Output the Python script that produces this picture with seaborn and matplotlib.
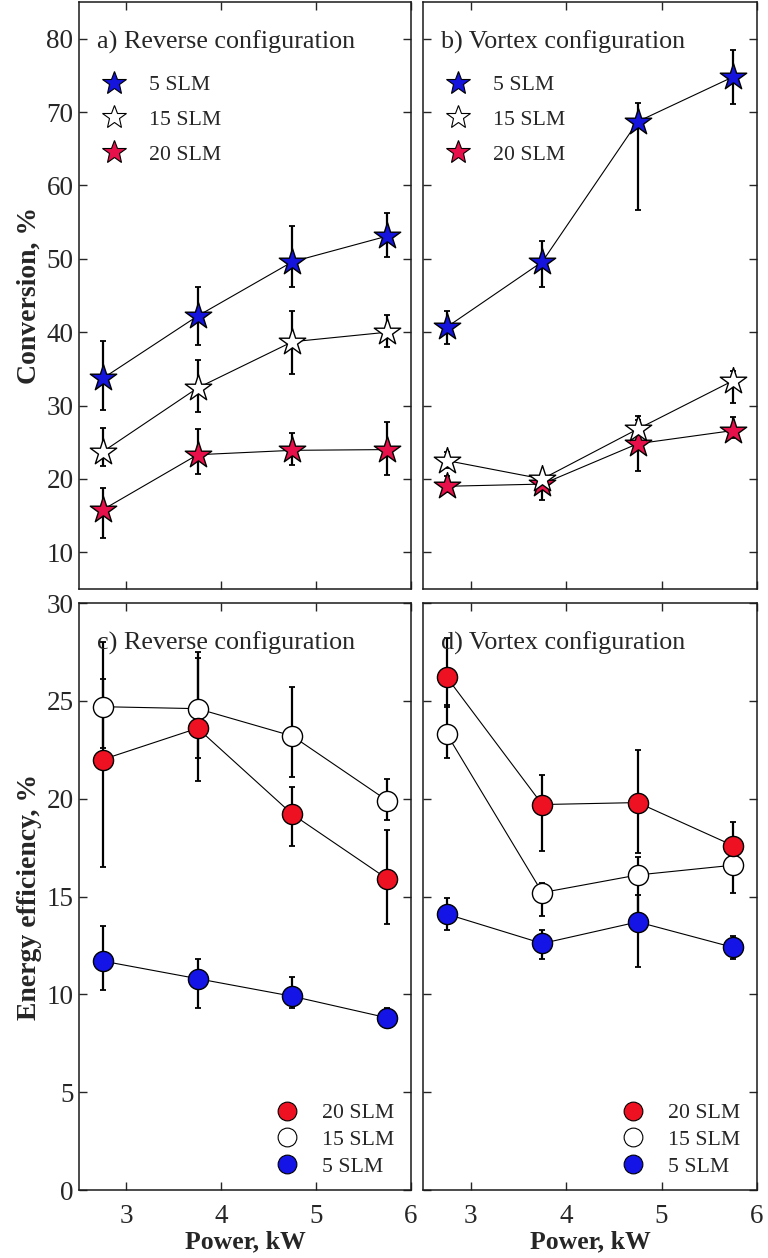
import numpy as np
import pandas as pd
import matplotlib
matplotlib.use("Agg")
import matplotlib.pyplot as plt
from matplotlib.lines import Line2D
import seaborn as sns

# ---- data -------------------------------------------------------------
power = [2.75, 3.75, 4.75, 5.75]
flows = ["5 SLM", "15 SLM", "20 SLM"]

# Conversion, % (value, upper error, lower error)
conv_rev = {
    "5 SLM":  [33.7, 42.2, 49.6, 53.1],
    "15 SLM": [23.7, 32.4, 38.7, 40.0],
    "20 SLM": [15.8, 23.3, 23.9, 24.0],
}
conv_rev_up = {
    "5 SLM":  [5.1, 4.0, 4.9, 3.1],
    "15 SLM": [3.3, 3.8, 4.2, 2.3],
    "20 SLM": [3.0, 3.5, 2.4, 3.8],
}
conv_rev_lo = {
    "5 SLM":  [4.3, 4.0, 3.4, 2.8],
    "15 SLM": [1.9, 3.3, 4.4, 2.0],
    "20 SLM": [3.9, 2.6, 2.0, 3.5],
}

conv_vor = {
    "5 SLM":  [40.7, 49.6, 68.7, 74.8],
    "15 SLM": [22.5, 20.0, 26.8, 33.4],
    "20 SLM": [19.0, 19.3, 24.8, 26.6],
}
conv_vor_up = {
    "5 SLM":  [2.2, 2.8, 2.6, 3.7],
    "15 SLM": [1.2, 0.6, 1.8, 1.3],
    "20 SLM": [1.4, 0.7, 3.2, 1.8],
}
conv_vor_lo = {
    "5 SLM":  [2.3, 3.4, 12.0, 3.7],
    "15 SLM": [1.0, 0.8, 2.0, 3.0],
    "20 SLM": [0.8, 2.2, 3.7, 1.0],
}

# Energy efficiency, %
eff_rev = {
    "20 SLM": [22.0, 23.6, 19.2, 15.9],
    "15 SLM": [24.7, 24.6, 23.2, 19.9],
    "5 SLM":  [11.7, 10.8, 9.9, 8.8],
}
eff_rev_up = {
    "20 SLM": [4.1, 3.6, 1.4, 2.5],
    "15 SLM": [3.3, 2.9, 2.5, 1.1],
    "5 SLM":  [1.8, 1.0, 1.0, 0.5],
}
eff_rev_lo = {
    "20 SLM": [5.5, 2.7, 1.6, 2.3],
    "15 SLM": [2.1, 2.5, 2.1, 1.0],
    "5 SLM":  [1.5, 1.5, 0.6, 0.4],
}

eff_vor = {
    "20 SLM": [26.2, 19.7, 19.8, 17.6],
    "15 SLM": [23.3, 15.2, 16.1, 16.6],
    "5 SLM":  [14.1, 12.6, 13.7, 12.4],
}
eff_vor_up = {
    "20 SLM": [2.0, 1.5, 2.7, 1.2],
    "15 SLM": [1.5, 0.5, 0.9, 0.8],
    "5 SLM":  [0.8, 0.7, 1.4, 0.6],
}
eff_vor_lo = {
    "20 SLM": [1.5, 2.4, 2.6, 0.6],
    "15 SLM": [1.2, 1.2, 2.6, 1.4],
    "5 SLM":  [0.8, 0.8, 2.3, 0.6],
}

x_ticks = [3, 4, 5, 6]
conv_ticks = [10, 20, 30, 40, 50, 60, 70, 80]
eff_ticks = [0, 5, 10, 15, 20, 25, 30]

# ---- style ------------------------------------------------------------
sns.set_theme(style="ticks")
plt.rcParams["font.family"] = ["Liberation Serif", "DejaVu Serif"]

star_face = {"5 SLM": "#1414DC", "15 SLM": "#FFFFFF", "20 SLM": "#E8104A"}
dot_face = {"5 SLM": "#1414E6", "15 SLM": "#FFFFFF", "20 SLM": "#EE1122"}

fig = plt.figure(figsize=(7.68, 12.58), dpi=100)
W, H = 768, 1258


def add_axes(l, t, r, b):
    return fig.add_axes([l / W, 1 - b / H, (r - l) / W, (b - t) / H])


ax_a = add_axes(79, 2, 411, 589)
ax_b = add_axes(423, 2, 757, 589)
ax_c = add_axes(79, 603, 411, 1190)
ax_d = add_axes(423, 603, 757, 1190)


def draw_panel(ax, vals, ups, los, face, marker, msize, order):
    for name in order:
        df = pd.DataFrame({"power": power, "value": vals[name]})
        sns.lineplot(data=df, x="power", y="value", ax=ax, color="black",
                     linewidth=0.8, zorder=2, legend=False)
        ax.errorbar(power, vals[name], yerr=[los[name], ups[name]], fmt="none",
                    ecolor="black", elinewidth=1.6, capsize=2.5, capthick=1.3,
                    zorder=3)
    for name in order:
        df = pd.DataFrame({"power": power, "value": vals[name]})
        sns.scatterplot(data=df, x="power", y="value", ax=ax, marker=marker,
                        s=msize ** 2, color=face[name], edgecolor="black",
                        linewidth=1.0, zorder=4, legend=False)


draw_panel(ax_a, conv_rev, conv_rev_up, conv_rev_lo, star_face, "*", 20,
           ["20 SLM", "15 SLM", "5 SLM"])
draw_panel(ax_b, conv_vor, conv_vor_up, conv_vor_lo, star_face, "*", 20,
           ["20 SLM", "15 SLM", "5 SLM"])
draw_panel(ax_c, eff_rev, eff_rev_up, eff_rev_lo, dot_face, "o", 14.5,
           ["5 SLM", "15 SLM", "20 SLM"])
draw_panel(ax_d, eff_vor, eff_vor_up, eff_vor_lo, dot_face, "o", 14.5,
           ["5 SLM", "15 SLM", "20 SLM"])

tick_fs = 19.5
for ax in (ax_a, ax_b, ax_c, ax_d):
    ax.set_xlim(2.5, 6)
    ax.set_xticks(x_ticks)
    ax.tick_params(direction="in", top=True, right=True, length=6, width=1,
                   labelsize=tick_fs, pad=4)
    ax.tick_params(axis="x", pad=10)
    for sp in ax.spines.values():
        sp.set_linewidth(1.1)
        sp.set_color("#1a1a1a")
    ax.set_xlabel("")
    ax.set_ylabel("")

for ax in (ax_a, ax_b):
    ax.set_ylim(5, 85)
    ax.set_yticks(conv_ticks)
    ax.tick_params(labelbottom=False)
for ax in (ax_c, ax_d):
    ax.set_ylim(0, 30)
    ax.set_yticks(eff_ticks)
for ax in (ax_b, ax_d):
    ax.tick_params(labelleft=False)

ax_a.set_ylabel("Conversion, %", fontsize=20, fontweight="bold", labelpad=3)
ax_c.set_ylabel("Energy efficiency, %", fontsize=20, fontweight="bold", labelpad=3)
ax_c.set_xlabel("Power, kW", fontsize=18.5, fontweight="bold", labelpad=1)
ax_d.set_xlabel("Power, kW", fontsize=18.5, fontweight="bold", labelpad=1)

titles = {ax_a: "a) Reverse configuration", ax_b: "b) Vortex configuration",
          ax_c: "c) Reverse configuration", ax_d: "d) Vortex configuration"}
for ax, t in titles.items():
    ax.text(0.053, 0.932, t, transform=ax.transAxes, fontsize=18.8,
            va="center", ha="left")

# legends
def handles(face, marker, msize, order):
    return [Line2D([], [], linestyle="none", marker=marker, markersize=msize,
                   markerfacecolor=face[n], markeredgecolor="black",
                   markeredgewidth=0.8, label=n) for n in order]


for ax in (ax_a, ax_b):
    ax.legend(handles=handles(star_face, "*", 18, flows), loc="upper left",
              bbox_to_anchor=(0.0, 0.905), frameon=False, fontsize=15.7,
              labelspacing=0.66, handletextpad=0.8, handlelength=1.6,
              borderaxespad=0.4)
for ax in (ax_c, ax_d):
    ax.legend(handles=handles(dot_face, "o", 13.5, ["20 SLM", "15 SLM", "5 SLM"]),
              loc="lower right", bbox_to_anchor=(0.99, 0.0), frameon=False,
              fontsize=15.7, labelspacing=0.3, handletextpad=0.9,
              handlelength=1.4, borderaxespad=0.2)

fig.savefig("out.png", dpi=100)
